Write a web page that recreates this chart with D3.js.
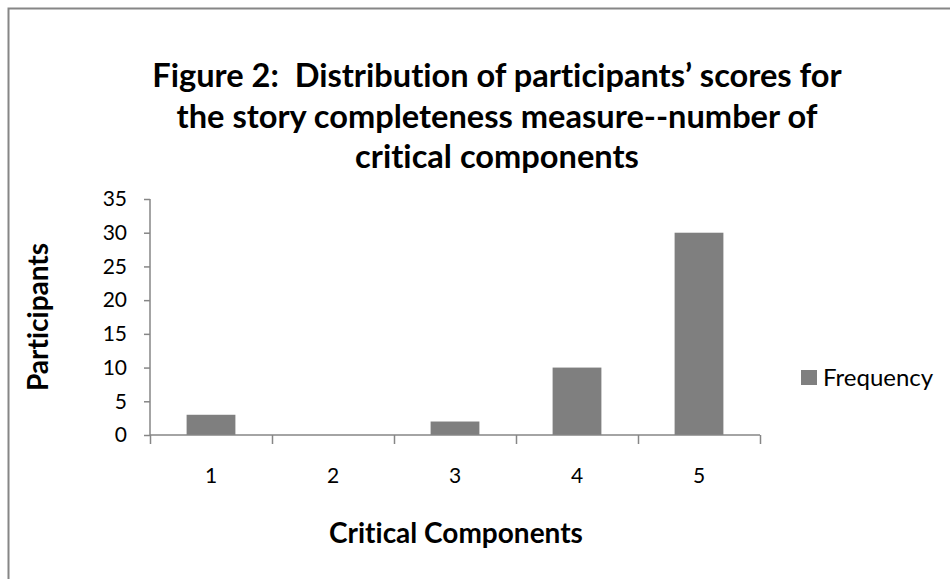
<!DOCTYPE html>
<html>
<head>
<meta charset="utf-8">
<script src="https://cdn.jsdelivr.net/npm/d3@7"></script>
<style>
  body { margin: 0; background: #fff; }
  text { font-family: Lato, "Open Sans", sans-serif; fill: #000; font-variant-ligatures: none; white-space: pre; }
</style>
</head>
<body>
<svg id="chart"></svg>
<script>
const categories = ["1", "2", "3", "4", "5"];
const frequency = [3, 0, 2, 10, 30];
const yTicks = [0, 5, 10, 15, 20, 25, 30, 35];
const titleLines = [
  "Figure 2:  Distribution of participants\u2019 scores for",
  "the story completeness measure--number of",
  "critical components",
];
const seriesName = "Frequency";

const settings = {
  width: 950,
  height: 579,
  left: 150,
  right: 760,
  top: 199,
  bottom: 435,
  barColor: "#7f7f7f",
  axisColor: "#868686",
};

const svg = d3
  .select("#chart")
  .attr("width", settings.width)
  .attr("height", settings.height);

// outer frame
svg
  .append("rect")
  .attr("x", 8.5)
  .attr("y", 8.5)
  .attr("width", settings.width + 10)
  .attr("height", settings.height + 10)
  .attr("fill", "#fff")
  .attr("stroke", "#868686")
  .attr("stroke-width", 2);

const xScale = d3
  .scaleBand()
  .domain(categories)
  .range([settings.left, settings.right])
  .paddingInner(0.6)
  .paddingOuter(0.3);

const xCats = d3
  .scaleBand()
  .domain(categories)
  .range([settings.left, settings.right]);

const yScale = d3
  .scaleLinear()
  .domain([0, 35])
  .range([settings.bottom, settings.top]);

// title
svg
  .append("g")
  .selectAll("text")
  .data(titleLines)
  .join("text")
  .attr("x", 497)
  .attr("y", 87)
  .attr("dy", (d, i) => i * 40.5)
  .attr("text-anchor", "middle")
  .attr("font-size", 32.6)
  .attr("font-weight", "bold")
  .text((d) => d);

// bars
svg
  .append("g")
  .selectAll("rect")
  .data(frequency)
  .join("rect")
  .attr("x", (d, i) => xScale(categories[i]))
  .attr("width", xScale.bandwidth())
  .attr("y", (d) => yScale(d))
  .attr("height", (d) => yScale(0) - yScale(d))
  .attr("fill", settings.barColor);

// y axis
const yAxis = svg
  .append("g")
  .attr("transform", `translate(${settings.left},0)`)
  .call(d3.axisLeft(yScale).tickValues(yTicks).tickSize(6).tickPadding(17));

// x axis: ticks at category boundaries
const xAxis = svg
  .append("g")
  .attr("transform", `translate(0,${settings.bottom})`)
  .call(d3.axisBottom(xCats).tickSize(0).tickPadding(33));

const boundaries = categories.map((c) => xCats(c)).concat([settings.right]);
xAxis
  .selectAll("line.boundary")
  .data(boundaries)
  .join("line")
  .attr("class", "boundary")
  .attr("x1", (d) => d + 0.5)
  .attr("x2", (d) => d + 0.5)
  .attr("y1", 0)
  .attr("y2", 9);

[yAxis, xAxis].forEach((ax) => {
  ax.select(".domain").attr("stroke", settings.axisColor).attr("stroke-width", 1.5);
  ax.selectAll("line").attr("stroke", settings.axisColor).attr("stroke-width", 1.5);
  ax.selectAll("text")
    .attr("font-family", "Lato, sans-serif")
    .attr("font-size", 21)
    .attr("fill", "#000");
});
yAxis.select(".domain").attr("d", `M0,${settings.top}V${settings.bottom}`);
xAxis.select(".domain").attr("d", `M${settings.left},0H${settings.right}`);

// axis titles
svg
  .append("text")
  .attr("x", 456)
  .attr("y", 543)
  .attr("text-anchor", "middle")
  .attr("font-size", 28)
  .attr("font-weight", "bold")
  .text("Critical Components");

svg
  .append("text")
  .attr("transform", "translate(48,317) rotate(-90)")
  .attr("text-anchor", "middle")
  .attr("font-size", 28)
  .attr("font-weight", "bold")
  .text("Participants");

// legend
const legend = svg.append("g").attr("transform", "translate(801,370)");
legend
  .append("rect")
  .attr("width", 16)
  .attr("height", 15)
  .attr("fill", settings.barColor);
legend
  .append("text")
  .attr("x", 22)
  .attr("y", 16)
  .attr("font-size", 24)
  .text(seriesName);
</script>
</body>
</html>
